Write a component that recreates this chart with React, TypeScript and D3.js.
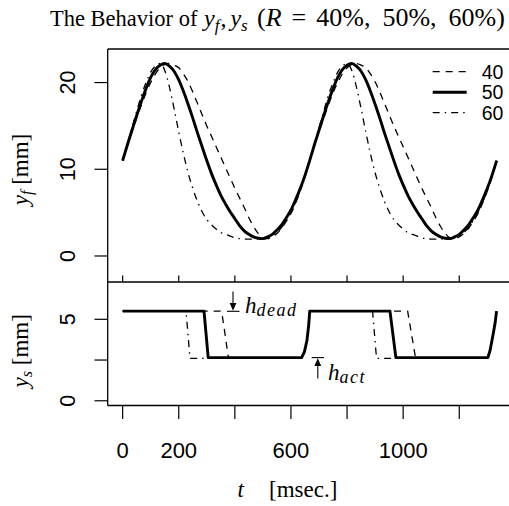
import React from 'react';
import * as d3 from 'd3';

// sample times (msec) for y_f curves
const tSample = [0,16.7,33.3,50,66.7,83.3,100,116.7,133.3,150,166.7,183.3,200,216.7,233.3,250,266.7,283.3,300,316.7,333.3,350,366.7,383.3,400,416.7,433.3,450,466.7,483.3,500,516.7,533.3,550,566.7,583.3,600,616.7,633.3,650,666.7,683.3,700,716.7,733.3,750,766.7,783.3,800,816.7,833.3,850,866.7,883.3,900,916.7,933.3,950,966.7,983.3,1000,1016.7,1033.3,1050,1066.7,1083.3,1100,1116.7,1133.3,1150,1166.7,1183.3,1200,1216.7,1233.3,1250,1266.7,1283.3,1300,1316.7,1333.3];

const yf40 = [11.0,12.7,14.3,15.9,17.4,18.8,20.0,21.0,21.7,22.1,22.2,22.0,21.7,21.0,20.1,18.9,17.6,16.3,15.0,13.8,12.6,11.4,10.2,9.0,7.8,6.7,5.6,4.4,3.4,2.6,2.1,2.0,2.2,2.6,3.2,4.0,4.9,6.1,7.5,9.1,11.0,
  12.7,14.3,15.9,17.4,18.8,20.0,21.0,21.7,22.1,22.2,22.0,21.7,21.0,20.1,18.9,17.6,16.3,15.0,13.8,12.6,11.4,10.2,9.0,7.8,6.7,5.6,4.4,3.4,2.6,2.1,2.0,2.2,2.6,3.2,4.0,4.9,6.1,7.5,9.1,11.0];
const yf50 = [11.0,12.8,14.5,16.2,17.8,19.3,20.6,21.5,22.0,22.2,21.9,21.3,20.3,19.0,17.5,15.9,14.2,12.6,11.0,9.5,8.2,7.0,6.0,5.1,4.3,3.5,2.9,2.5,2.2,2.05,2.0,2.2,2.5,3.0,3.6,4.4,5.3,6.5,7.8,9.3,11.0,
  12.8,14.5,16.2,17.8,19.3,20.6,21.5,22.0,22.2,21.9,21.3,20.3,19.0,17.5,15.9,14.2,12.6,11.0,9.5,8.2,7.0,6.0,5.1,4.3,3.5,2.9,2.5,2.2,2.05,2.0,2.2,2.5,3.0,3.6,4.4,5.3,6.5,7.8,9.3,11.0];
const yf60 = [11.0,12.9,14.8,16.7,18.5,20.0,21.2,21.9,22.2,21.4,19.5,17.0,14.3,11.8,9.6,7.8,6.3,5.1,4.2,3.6,3.1,2.7,2.5,2.3,2.1,2.0,1.95,1.95,1.95,2.0,2.0,2.1,2.3,2.7,3.3,4.1,5.0,6.2,7.6,9.2,11.0,
  12.9,14.8,16.7,18.5,20.0,21.2,21.9,22.2,21.4,19.5,17.0,14.3,11.8,9.6,7.8,6.3,5.1,4.2,3.6,3.1,2.7,2.5,2.3,2.1,2.0,1.95,1.95,1.95,2.0,2.0,2.1,2.3,2.7,3.3,4.1,5.0,6.2,7.6,9.2,11.0];

// y_s step curves
const ys40T = [0,353,377,638,648,657,663,667,1016,1044,1302,1310,1321,1328,1333];
const ys40V = [5.5,5.5,2.65,2.65,3.0,3.7,4.6,5.5,5.5,2.65,2.65,3.1,4.1,4.8,5.5];
const ys50T = [0,290,305,638,648,657,663,667,953,974,1302,1310,1321,1328,1333];
const ys50V = [5.5,5.5,2.65,2.65,3.0,3.7,4.6,5.5,5.5,2.65,2.65,3.1,4.1,4.8,5.5];
const ys60T = [0,226,240,638,648,657,663,667,891,905,1302,1310,1321,1328,1333];
const ys60V = [5.5,5.5,2.6,2.6,3.0,3.7,4.6,5.5,5.5,2.6,2.6,3.1,4.1,4.8,5.5];

const xTicks = [0,200,400,600,800,1000,1200];
const xTickLabels = ['0','200','','600','','1000',''];
const yfTicks = [0,10,20];
const yfTickLabels = ['0','10','20'];
const ysTicks = [0,2.5,5];
const ysTickLabels = ['0','','5'];
const legendLabels = ['40','50','60'];

const SANS = 'Liberation Sans, Arial, sans-serif';
const SERIF = 'Liberation Serif, Times New Roman, serif';

export default function App() {
  const W = 509, H = 506;
  const left = 107.7, right = 511.6, topY = 49, midY = 282, botY = 405.5;
  const x = d3.scaleLinear().domain([-53.3, 1386.6]).range([left, right]);
  const yT = d3.scaleLinear().domain([-3.0, 23.87]).range([midY, topY]);
  const yB = d3.scaleLinear().domain([-0.29, 7.29]).range([botY, midY]);

  const topLine = (vals: number[]) =>
    d3.line<number>().x((_, i) => x(tSample[i])).y(d => yT(d)).curve(d3.curveMonotoneX)(vals) || '';
  const botLine = (ts: number[], vs: number[]) =>
    d3.line<number>().x((_, i) => x(ts[i])).y(d => yB(d))(vs) || '';

  const styles: Record<string, { w: number; dash?: string }> = {
    '40': { w: 1.3, dash: '7,6' },
    '50': { w: 2.9 },
    '60': { w: 1.3, dash: '7,5,1.5,5' },
  };

  const topSeries = [
    { key: '40', vals: yf40 },
    { key: '60', vals: yf60 },
    { key: '50', vals: yf50 },
  ];
  const botSeries = [
    { key: '40', t: ys40T, v: ys40V },
    { key: '60', t: ys60T, v: ys60V },
    { key: '50', t: ys50T, v: ys50V },
  ];

  const legendY = [71.7, 92.2, 112.7];

  return (
    <svg width={W} height={H} style={{ position: 'absolute', left: 0, top: 0, background: '#fff' }}>
      <rect x={0} y={0} width={W} height={H} fill="#fff" />
      {/* title */}
      <g fontFamily={SERIF} fill="#000">
        <text x={50} y={26} fontSize={22.5}>The Behavior of</text>
        <text x={204} y={26} fontSize={24}>
          <tspan fontStyle="italic">y</tspan>
          <tspan fontStyle="italic" fontSize={17} dy={5}>f</tspan>
          <tspan dy={-5} dx={1}>,</tspan>
          <tspan fontStyle="italic" dx={4}>y</tspan>
          <tspan fontStyle="italic" fontSize={17} dy={5}>s</tspan>
        </text>
        <text x={257} y={26} fontSize={26}>
          <tspan>(</tspan>
          <tspan fontStyle="italic">R</tspan>
          <tspan dx={10}>=</tspan>
          <tspan dx={10}>40%,</tspan>
          <tspan dx={12}>50%,</tspan>
          <tspan dx={12}>60%)</tspan>
        </text>
      </g>

      {/* panel frames */}
      <g stroke="#000" strokeWidth={1.3} fill="none">
        <line x1={left} y1={topY} x2={right} y2={topY} />
        <line x1={left} y1={topY} x2={left} y2={botY} />
        <line x1={right} y1={topY} x2={right} y2={botY} />
        <line x1={left} y1={midY} x2={right} y2={midY} />
        <line x1={left} y1={botY} x2={right} y2={botY} />
      </g>

      {/* ticks */}
      <g stroke="#000" strokeWidth={1.2}>
        {xTicks.map(t => (
          <line key={'m' + t} x1={x(t)} x2={x(t)} y1={midY} y2={midY - 6.5} />
        ))}
        {xTicks.map(t => (
          <line key={'b' + t} x1={x(t)} x2={x(t)} y1={botY} y2={botY + 13.5} />
        ))}
        {yfTicks.map(v => (
          <line key={'yf' + v} x1={left} x2={left - 13.2} y1={yT(v)} y2={yT(v)} />
        ))}
        {ysTicks.map(v => (
          <line key={'ys' + v} x1={left} x2={left - 13.2} y1={yB(v)} y2={yB(v)} />
        ))}
      </g>

      {/* tick labels */}
      <g fontFamily={SANS} fontSize={22} fill="#000">
        {xTicks.map((t, i) =>
          xTickLabels[i] ? (
            <text key={'xl' + t} x={x(t)} y={458} textAnchor="middle">{xTickLabels[i]}</text>
          ) : null
        )}
        {yfTicks.map((v, i) => (
          <text key={'yfl' + v} x={75.5} y={yT(v)} textAnchor="middle"
            transform={`rotate(-90, 75.5, ${yT(v)})`} fontSize={21.5}>{yfTickLabels[i]}</text>
        ))}
        {ysTicks.map((v, i) =>
          ysTickLabels[i] ? (
            <text key={'ysl' + v} x={75.5} y={yB(v)} textAnchor="middle"
              transform={`rotate(-90, 75.5, ${yB(v)})`} fontSize={21.5}>{ysTickLabels[i]}</text>
          ) : null
        )}
      </g>

      {/* axis titles */}
      <g fontFamily={SERIF} fontSize={23} fill="#000">
        <text x={240.7} y={496.5} textAnchor="middle" fontStyle="italic">t</text>
        <text x={269} y={496.5}>[msec.]</text>
        <text x={27.6} y={169.5} textAnchor="middle" transform="rotate(-90, 27.6, 169.5)">
          <tspan fontStyle="italic">y</tspan>
          <tspan fontStyle="italic" fontSize={16} dy={4}>f</tspan>
          <tspan dy={-4}>  [mm]</tspan>
        </text>
        <text x={27.6} y={350.8} textAnchor="middle" transform="rotate(-90, 27.6, 350.8)">
          <tspan fontStyle="italic">y</tspan>
          <tspan fontStyle="italic" fontSize={16} dy={4}>s</tspan>
          <tspan dy={-4}>  [mm]</tspan>
        </text>
      </g>

      {/* top panel curves */}
      <g fill="none" stroke="#000" strokeLinejoin="round">
        {topSeries.map(s => (
          <path key={'t' + s.key} d={topLine(s.vals)} strokeWidth={styles[s.key].w}
            strokeDasharray={styles[s.key].dash} />
        ))}
      </g>

      {/* bottom panel curves */}
      <g fill="none" stroke="#000" strokeLinejoin="round">
        {botSeries.map(s => (
          <path key={'b' + s.key} d={botLine(s.t, s.v)} strokeWidth={styles[s.key].w}
            strokeDasharray={styles[s.key].dash} />
        ))}
      </g>

      {/* legend */}
      <g>
        {legendLabels.map((lab, i) => (
          <g key={'lg' + lab}>
            <line x1={432.7} x2={466.7} y1={legendY[i]} y2={legendY[i]} stroke="#000"
              strokeWidth={styles[lab].w} strokeDasharray={styles[lab].dash} />
            <text x={481.7} y={legendY[i] + 6.8} fontFamily={SANS} fontSize={19.5} fill="#000">{lab}</text>
          </g>
        ))}
      </g>

      {/* h_dead annotation */}
      <g stroke="#000" strokeWidth={1.1} fill="#000">
        <line x1={233} x2={233} y1={291.5} y2={304} />
        <polygon points="229.6,303 236.4,303 233,310.8" stroke="none" />
        <line x1={227} x2={239.5} y1={311.3} y2={311.3} />
      </g>
      <text x={245} y={313} fontFamily={SERIF} fill="#000">
        <tspan fontStyle="italic" fontSize={23}>h</tspan>
        <tspan fontStyle="italic" fontSize={18} dy={3} letterSpacing={1.5}>dead</tspan>
      </text>

      {/* h_act annotation */}
      <g stroke="#000" strokeWidth={1.1} fill="#000">
        <line x1={311.7} x2={324} y1={357.6} y2={357.6} />
        <polygon points="317.8,358.2 314.4,366 321.2,366" stroke="none" />
        <line x1={317.8} x2={317.8} y1={365} y2={378.5} />
      </g>
      <text x={328} y={380} fontFamily={SERIF} fill="#000">
        <tspan fontStyle="italic" fontSize={23}>h</tspan>
        <tspan fontStyle="italic" fontSize={18} dy={3} letterSpacing={1.5}>act</tspan>
      </text>
    </svg>
  );
}
